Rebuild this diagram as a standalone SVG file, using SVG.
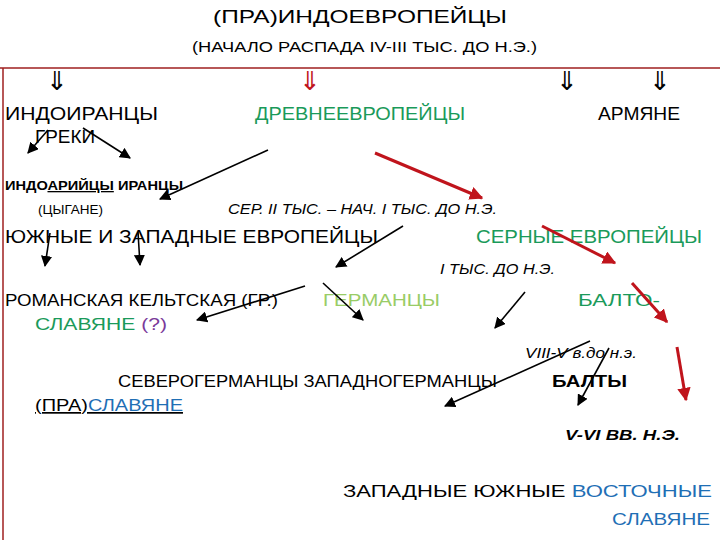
<svg xmlns="http://www.w3.org/2000/svg" width="720" height="540" viewBox="0 0 720 540">
<defs>
<style>
text{font-family:"Liberation Sans",Arial,sans-serif;fill:#000}
.b{font-size:18px}.m{font-size:17px}.s{font-size:13px}
.i{font-style:italic;font-size:14px}
.g{fill:#1a9a5a}.lg{fill:#99cc66}.bl{fill:#1f6fb5}
.k{stroke:#000;stroke-width:1.6;fill:none}
.r{stroke:#c0141c;stroke-width:3;fill:none}
</style>
<marker id="ak" viewBox="0 0 10 10" refX="9" refY="5" markerWidth="7" markerHeight="7" orient="auto"><path d="M0,0L10,5L0,10z" fill="#000"/></marker>
<marker id="ar" viewBox="0 0 10 10" refX="9" refY="5" markerWidth="4.5" markerHeight="4.5" orient="auto"><path d="M0,0L10,5L0,10z" fill="#c0141c"/></marker>
</defs>
<rect width="720" height="540" fill="#fff"/>
<path d="M0,68H720M3,68V540" stroke="#a02020" stroke-width="1.5"/>
<g id="title"><text x="213" y="23" font-size="19" textLength="294" lengthAdjust="spacingAndGlyphs">(ПРА)ИНДОЕВРОПЕЙЦЫ</text>
<text x="192" y="52" font-size="14" textLength="345" lengthAdjust="spacingAndGlyphs">(НАЧАЛО РАСПАДА IV-III ТЫС. ДО Н.Э.)</text></g>
<g id="downs" font-size="26"><text x="57" y="90" text-anchor="middle">⇓</text><text x="310" y="90" text-anchor="middle" style="fill:#c0141c">⇓</text><text x="567" y="90" text-anchor="middle">⇓</text><text x="660" y="90" text-anchor="middle">⇓</text></g>
<g id="n1"><text class="b" x="5" y="120" textLength="153" lengthAdjust="spacingAndGlyphs">ИНДОИРАНЦЫ</text><text class="b" x="35" y="143" textLength="60" lengthAdjust="spacingAndGlyphs">ГРЕКИ</text></g>
<g id="n2"><text class="b g" x="255" y="120" textLength="210" lengthAdjust="spacingAndGlyphs">ДРЕВНЕЕВРОПЕЙЦЫ</text></g>
<g id="n3"><text class="b" x="598" y="120" textLength="82" lengthAdjust="spacingAndGlyphs">АРМЯНЕ</text></g>
<g id="n4"><text class="s" font-weight="bold" x="5" y="190" textLength="178" lengthAdjust="spacingAndGlyphs">ИНДО<tspan text-decoration="underline">АРИЙЦЫ</tspan>  ИРАНЦЫ</text><text font-size="12" x="38" y="214" textLength="65" lengthAdjust="spacingAndGlyphs">(ЦЫГАНЕ)</text></g>
<g id="d1"><text class="i" x="228" y="214" textLength="269" lengthAdjust="spacingAndGlyphs">СЕР. II ТЫС. – НАЧ. I ТЫС. ДО Н.Э.</text></g>
<g id="n5"><text class="b" x="5" y="243" textLength="373" lengthAdjust="spacingAndGlyphs">ЮЖНЫЕ И ЗАПАДНЫЕ  ЕВРОПЕЙЦЫ</text></g>
<g id="n6"><text class="b g" x="476" y="243" textLength="226" lengthAdjust="spacingAndGlyphs">СЕРНЫЕ ЕВРОПЕЙЦЫ</text></g>
<g id="d2"><text class="i" x="440" y="274" textLength="115" lengthAdjust="spacingAndGlyphs">I ТЫС. ДО Н.Э.</text></g>
<g id="n7"><text class="m" x="5" y="306" textLength="273" lengthAdjust="spacingAndGlyphs">РОМАНСКАЯ КЕЛЬТСКАЯ (ГР.)</text><text class="m" x="35" y="330" textLength="132" lengthAdjust="spacingAndGlyphs"><tspan class="g">СЛАВЯНЕ </tspan><tspan style="fill:#7a3a9a">(?)</tspan></text></g>
<g id="n8"><text class="m lg" x="323" y="306" textLength="117" lengthAdjust="spacingAndGlyphs">ГЕРМАНЦЫ</text></g>
<g id="n9"><text class="m g" x="578" y="306" textLength="82" lengthAdjust="spacingAndGlyphs">БАЛТО-</text></g>
<g id="d3"><text class="i" font-size="13" x="525" y="358" textLength="112" lengthAdjust="spacingAndGlyphs">VIII-V в.до н.э.</text></g>
<g id="n10"><text class="m" x="118" y="387" textLength="379" lengthAdjust="spacingAndGlyphs">СЕВЕРОГЕРМАНЦЫ  ЗАПАДНОГЕРМАНЦЫ</text><text class="m" x="35" y="411" text-decoration="underline" textLength="148" lengthAdjust="spacingAndGlyphs"><tspan>(ПРА)</tspan><tspan class="bl">СЛАВЯНЕ</tspan></text></g>
<g id="n11"><text class="m" font-weight="bold" x="552" y="387" textLength="75" lengthAdjust="spacingAndGlyphs">БАЛТЫ</text></g>
<g id="d4"><text class="i" font-weight="bold" x="565" y="440" textLength="115" lengthAdjust="spacingAndGlyphs">V-VI  ВВ. Н.Э.</text></g>
<g id="n12"><text class="m" x="343" y="497" textLength="369" lengthAdjust="spacingAndGlyphs">ЗАПАДНЫЕ  ЮЖНЫЕ  <tspan class="bl">ВОСТОЧНЫЕ</tspan></text><text class="m bl" x="612" y="525" textLength="98" lengthAdjust="spacingAndGlyphs">СЛАВЯНЕ</text></g>
<g id="connectors">
<path class="k" marker-end="url(#ak)" d="M48,130L28,153"/>
<path class="k" marker-end="url(#ak)" d="M83,128L130,158"/>
<path class="k" marker-end="url(#ak)" d="M268,150L160,199"/>
<path class="r" marker-end="url(#ar)" d="M375,153L482,198"/>
<path class="k" marker-end="url(#ak)" d="M50,233L45,266"/>
<path class="k" marker-end="url(#ak)" d="M138,232L140,265"/>
<path class="k" marker-end="url(#ak)" d="M403,226L336,267"/>
<path class="r" marker-end="url(#ar)" d="M542,226L615,263"/>
<path class="k" marker-end="url(#ak)" d="M305,286L197,320"/>
<path class="k" marker-end="url(#ak)" d="M323,283L363,320"/>
<path class="k" marker-end="url(#ak)" d="M525,292L495,328"/>
<path class="r" marker-end="url(#ar)" d="M632,283L667,322"/>
<path class="r" marker-end="url(#ar)" d="M677,347L686,400"/>
<path class="k" marker-end="url(#ak)" d="M590,341L445,406"/>
<path class="k" marker-end="url(#ak)" d="M609,348L578,405"/>
</g>
</svg>
